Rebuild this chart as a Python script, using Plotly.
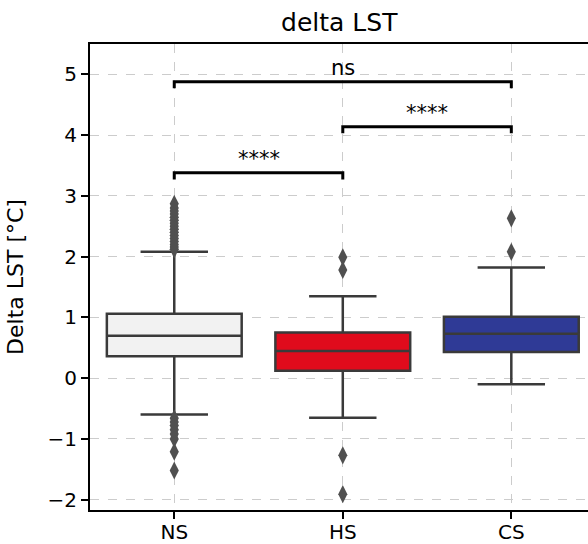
import plotly.graph_objects as go

categories = ["NS", "HS", "CS"]
q1 = [0.36, 0.12, 0.43]
median = [0.70, 0.445, 0.73]
q3 = [1.06, 0.75, 1.01]
lower_whisker = [-0.60, -0.65, -0.10]
upper_whisker = [2.08, 1.35, 1.82]
fill_colors = ["#f2f2f2", "#e00b1c", "#2f3a96"]

outliers = {
    "NS": [2.12, 2.16, 2.2, 2.25, 2.3, 2.35, 2.4, 2.45, 2.5, 2.55, 2.6, 2.65, 2.7,
           2.75, 2.8, 2.87, -0.66, -0.72, -0.78, -0.85, -0.92, -1.0, -1.21, -1.52],
    "HS": [1.99, 1.78, -1.27, -1.91],
    "CS": [2.63, 2.08],
}

# significance brackets: (from index, to index, height, label)
brackets = [(0, 1, 3.38, "****"), (1, 2, 4.14, "****"), (0, 2, 4.88, "ns")]
bracket_drop = 0.11

fig = go.Figure()
for i, c in enumerate(categories):
    fig.add_trace(go.Box(
        x=[c], q1=[q1[i]], median=[median[i]], q3=[q3[i]],
        lowerfence=[lower_whisker[i]], upperfence=[upper_whisker[i]],
        fillcolor=fill_colors[i], line=dict(color="#3a3a3a", width=2.5),
        width=0.8, whiskerwidth=0.5, boxpoints=False, showlegend=False,
    ))
    fig.add_trace(go.Scatter(
        x=[c] * len(outliers[c]), y=outliers[c], mode="markers",
        marker=dict(symbol="diamond-tall", size=13, color="#505050",
                    line=dict(width=0)),
        showlegend=False,
    ))

for a, b, h, lab in brackets:
    fig.add_shape(type="path",
                  path=f"M {a} {h - bracket_drop} L {a} {h} L {b} {h} L {b} {h - bracket_drop}",
                  xref="x", yref="y", line=dict(color="black", width=3))
    fig.add_annotation(x=(a + b) / 2, y=h, text=lab, showarrow=False,
                       yanchor="bottom", yshift=0,
                       font=dict(size=21, color="black"))

fig.update_layout(
    width=588, height=544,
    margin=dict(l=90, r=0, t=44, b=34),
    plot_bgcolor="white", paper_bgcolor="white",
    font=dict(family="DejaVu Sans", size=20, color="black"),
    title=dict(text="delta LST", x=0.577, xanchor="center", y=0.96,
               yanchor="middle", font=dict(size=25)),
    xaxis=dict(
        type="category", categoryorder="array", categoryarray=categories,
        range=[-0.5, 2.455], showline=True, linecolor="black", linewidth=2,
        mirror=True, ticks="outside", ticklen=7, tickwidth=1.5,
        tickcolor="black", showgrid=True, gridcolor="#cccccc",
        griddash="dash", gridwidth=1, automargin=False,
        ticklabelstandoff=-4,
    ),
    yaxis=dict(
        range=[-2.17, 5.5], tickvals=[-2, -1, 0, 1, 2, 3, 4, 5],
        ticktext=["\u22122", "\u22121", "0", "1", "2", "3", "4", "5"],
        showline=True, linecolor="black", linewidth=2, mirror=False,
        ticks="outside", ticklen=7, tickwidth=1.5, tickcolor="black",
        showgrid=True, gridcolor="#cccccc", griddash="dash", gridwidth=1,
        zeroline=False, automargin=False,
        title=dict(text="Delta LST [°C]", standoff=18, font=dict(size=22)),
    ),
)

fig.write_html("out.html")
